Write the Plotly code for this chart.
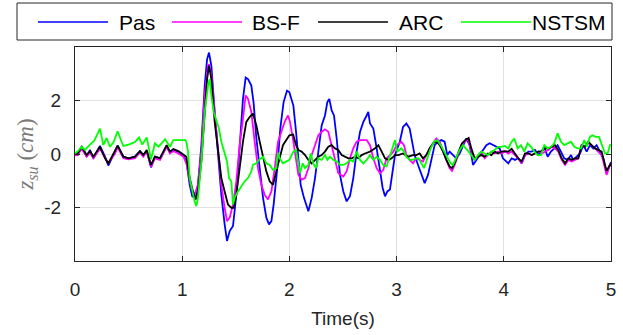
import plotly.graph_objects as go

# ---------------- data ----------------
t_pas = [0, 0.025, 0.062, 0.109, 0.14, 0.171, 0.233, 0.28, 0.311, 0.373, 0.398, 0.451, 0.498, 0.56, 0.606, 0.637, 0.669, 0.709, 0.746, 0.793, 0.815, 0.855, 0.886, 0.917, 0.964, 1.011,
         1.039, 1.07, 1.094, 1.126, 1.147, 1.179, 1.21, 1.232, 1.25, 1.272, 1.303, 1.334, 1.365, 1.396, 1.418, 1.443, 1.474, 1.505, 1.536, 1.567, 1.592, 1.614, 1.645, 1.667, 1.692, 1.723, 1.754, 1.785, 1.81, 1.832, 1.853, 1.884, 1.915, 1.946, 1.978,
         2.0, 2.037, 2.062, 2.084, 2.105, 2.136, 2.177, 2.208, 2.239, 2.27, 2.301, 2.332, 2.354, 2.372, 2.394, 2.416, 2.441, 2.472, 2.503, 2.534, 2.565, 2.596, 2.627, 2.659, 2.69, 2.721, 2.736, 2.752, 2.783, 2.814, 2.845, 2.87, 2.892, 2.914, 2.938, 2.963, 2.985,
         3.007, 3.03, 3.06, 3.091, 3.122, 3.144, 3.168, 3.2, 3.231, 3.262, 3.293, 3.324, 3.355, 3.386, 3.417, 3.448, 3.473, 3.495, 3.526, 3.557, 3.588, 3.619, 3.65, 3.681, 3.713, 3.744, 3.775, 3.806, 3.837, 3.868, 3.899, 3.93, 3.961, 3.992,
         4.024, 4.042, 4.073, 4.104, 4.135, 4.166, 4.198, 4.229, 4.26, 4.291, 4.322, 4.353, 4.378, 4.409, 4.44, 4.471, 4.502, 4.533, 4.564, 4.596, 4.627, 4.648, 4.68, 4.711, 4.742, 4.773, 4.804, 4.835, 4.866, 4.897, 4.928, 4.959, 4.99, 5.0]
v_pas = [0.0, -0.04, 0.27, -0.1, 0.15, -0.16, 0.3, -0.1, -0.43, 0.09, 0.31, -0.1, -0.16, -0.1, 0.11, -0.04, 0.11, -0.5, -0.1, -0.16, 0.02, 0.3, 0.06, 0.15, 0.09, -0.04,
         -0.28, -1.15, -1.58, -1.64, -1.15, 0.33, 2.56, 3.54, 3.79, 3.3, 1.57, -0.04, -1.52, -2.63, -3.25, -2.88, -2.69, -1.52, 0.33, 2.06, 2.86, 2.8, 2.56, 1.88, 0.58, -0.65, -1.64, -2.38, -2.63, -2.51, -1.89, -0.65, 0.95, 1.94, 2.37,
         2.31, 1.81, 0.83, -0.16, -1.15, -1.64, -2.14, -1.64, -0.9, 0.09, 1.07, 1.44, 1.94, 2.06, 1.63, 1.44, 0.58, -0.78, -1.4, -1.77, -1.58, -0.9, 0.09, 0.83, 1.2, 1.44, 1.57, 1.14, 0.95, 0.21, -0.65, -1.27, -1.58, -1.4, -1.33, -0.65, -0.04,
         0.21, 0.46, 1.01, 1.14, 0.95, 0.46, -0.04, -0.41, -0.78, -1.09, -0.78, -0.28, 0.33, 0.46, 0.52, 0.46, -0.04, 0.09, -0.04, -0.16, 0.02, 0.33, 0.58, 0.33, -0.41, -0.22, -0.04, 0.15, 0.33, 0.4, 0.33, 0.27, 0.21, -0.16,
         -0.28, -0.35, -0.16, -0.22, -0.16, -0.35, -0.04, 0.09, 0.09, 0.15, -0.04, 0.09, 0.27, -0.1, 0.09, 0.21, 0.33, 0.09, -0.16, -0.22, -0.04, -0.22, -0.1, 0.02, 0.33, 0.09, 0.33, 0.21, 0.33, 0.09, -0.16, -0.72, -0.35, -0.3]

t_bsf = [0, 0.025, 0.062, 0.109, 0.14, 0.171, 0.233, 0.28, 0.311, 0.373, 0.398, 0.451, 0.498, 0.56, 0.606, 0.637, 0.669, 0.709, 0.746, 0.793, 0.815, 0.855, 0.886, 0.917, 0.964, 1.011,
         1.039, 1.085, 1.116, 1.147, 1.179, 1.21, 1.241, 1.25, 1.272, 1.303, 1.334, 1.365, 1.396, 1.418, 1.443, 1.474, 1.505, 1.536, 1.567, 1.592, 1.614, 1.645, 1.676, 1.707, 1.738, 1.769, 1.8, 1.832, 1.863, 1.894, 1.925, 1.956, 1.987,
         2.006, 2.037, 2.062, 2.084, 2.114, 2.146, 2.177, 2.208, 2.239, 2.27, 2.301, 2.332, 2.363, 2.394, 2.425, 2.456, 2.503, 2.534, 2.565, 2.596, 2.627, 2.659, 2.69, 2.721, 2.752, 2.783, 2.814, 2.845, 2.876, 2.907, 2.938, 2.97,
         3.001, 3.044, 3.069, 3.091, 3.122, 3.153, 3.184, 3.215, 3.246, 3.277, 3.308, 3.34, 3.371, 3.402, 3.433, 3.464, 3.495, 3.517, 3.542, 3.573, 3.604, 3.635, 3.666, 3.697, 3.728, 3.759, 3.79, 3.821, 3.852, 3.884, 3.915, 3.946, 3.977,
         4.011, 4.042, 4.073, 4.104, 4.135, 4.166, 4.198, 4.229, 4.26, 4.291, 4.322, 4.353, 4.384, 4.415, 4.446, 4.477, 4.508, 4.54, 4.571, 4.602, 4.633, 4.664, 4.695, 4.726, 4.757, 4.788, 4.819, 4.851, 4.882, 4.913, 4.944, 4.959, 4.99, 5.0]
v_bsf = [-0.05, -0.04, 0.2, -0.1, 0.06, -0.16, 0.2, -0.16, -0.35, 0.02, 0.25, -0.16, -0.2, -0.16, 0.06, -0.1, 0.09, -0.47, -0.16, -0.22, -0.04, 0.27, 0.02, 0.11, 0.02, -0.1,
         -0.35, -1.27, -1.52, -1.15, 0.09, 2.19, 3.3, 3.36, 2.93, 1.57, 0.21, -1.15, -2.01, -2.51, -2.38, -1.89, -1.02, 0.33, 1.32, 2.19, 2.06, 1.57, 0.46, -0.53, -1.15, -1.52, -1.7, -1.4, -0.53, 0.46, 0.83, 1.2, 1.44,
         1.2, 0.46, -0.28, -0.78, -0.96, -0.9, -0.53, -0.04, 0.33, 0.7, 0.83, 0.92, 0.83, 0.33, -0.28, -0.72, -0.84, -0.65, -0.16, 0.21, 0.46, 0.52, 0.52, 0.52, 0.33, -0.16, -0.53, -0.72, -0.59, -0.16, -0.04, 0.09,
         0.33, 0.46, 0.33, -0.04, -0.22, -0.35, -0.16, -0.22, -0.28, -0.04, 0.21, 0.4, 0.58, 0.46, 0.09, -0.22, -0.53, -0.63, -0.41, -0.04, 0.33, 0.46, 0.56, 0.09, -0.22, -0.1, 0.09, -0.16, -0.04, 0.09, 0.02, 0.09, 0.02,
         0.09, 0.02, 0.09, -0.04, -0.16, -0.35, -0.04, 0.02, -0.04, 0.02, 0.09, 0.02, 0.09, 0.15, 0.27, 0.21, 0.09, -0.22, -0.41, -0.22, -0.28, -0.22, -0.16, 0.33, 0.27, 0.4, 0.33, 0.21, 0.09, -0.04, -0.53, -0.78, -0.41, -0.45]

t_arc = [0, 0.025, 0.062, 0.109, 0.14, 0.171, 0.233, 0.28, 0.311, 0.373, 0.398, 0.451, 0.498, 0.56, 0.606, 0.637, 0.669, 0.709, 0.746, 0.793, 0.815, 0.855, 0.886, 0.917, 0.964, 1.011,
         1.039, 1.07, 1.1, 1.126, 1.147, 1.179, 1.21, 1.232, 1.25, 1.272, 1.303, 1.334, 1.365, 1.396, 1.427, 1.458, 1.48, 1.505, 1.536, 1.567, 1.598, 1.629, 1.66, 1.692, 1.723, 1.754, 1.785, 1.816, 1.847, 1.878, 1.909, 1.94, 1.971,
         2.0, 2.035, 2.062, 2.084, 2.114, 2.146, 2.177, 2.208, 2.239, 2.27, 2.301, 2.332, 2.363, 2.394, 2.425, 2.456, 2.488, 2.519, 2.55, 2.581, 2.612, 2.643, 2.674, 2.705, 2.752, 2.799, 2.83, 2.861, 2.892, 2.923, 2.954, 2.985,
         3.016, 3.06, 3.106, 3.153, 3.184, 3.215, 3.246, 3.277, 3.308, 3.34, 3.371, 3.402, 3.433, 3.464, 3.495, 3.517, 3.548, 3.579, 3.61, 3.641, 3.672, 3.697, 3.728, 3.759, 3.79, 3.821, 3.852, 3.884, 3.915, 3.946, 3.977,
         4.011, 4.042, 4.073, 4.104, 4.135, 4.166, 4.198, 4.229, 4.26, 4.291, 4.322, 4.353, 4.384, 4.415, 4.446, 4.477, 4.508, 4.54, 4.571, 4.602, 4.633, 4.664, 4.695, 4.726, 4.757, 4.788, 4.819, 4.851, 4.882, 4.913, 4.944, 4.959, 4.99, 5.0]
v_arc = [0.0, 0.02, 0.27, -0.04, 0.11, -0.1, 0.27, -0.16, -0.35, 0.09, 0.31, -0.1, -0.16, -0.1, 0.11, -0.04, 0.15, -0.41, -0.1, -0.16, 0.02, 0.33, 0.09, 0.19, 0.11, -0.04,
         -0.1, -0.9, -1.4, -1.7, -1.4, -0.28, 1.57, 2.8, 3.3, 2.8, 1.2, 0.09, -0.9, -1.4, -1.89, -2.01, -2.01, -1.52, -0.53, 0.46, 1.2, 1.38, 1.51, 1.07, 0.46, -0.04, -0.65, -1.02, -1.15, -0.65, -0.16, 0.33, 0.52,
         0.7, 0.73, 0.33, 0.15, 0.09, -0.04, -0.22, -0.35, -0.22, -0.1, -0.04, 0.09, 0.27, 0.33, 0.21, 0.15, -0.04, -0.1, -0.16, -0.16, -0.1, -0.16, -0.04, 0.02, 0.09, 0.21, 0.33, 0.09, -0.16, -0.22, -0.16, -0.04,
         -0.04, 0.02, -0.1, -0.04, -0.04, 0.02, -0.16, -0.04, 0.21, 0.4, 0.48, 0.33, 0.09, -0.22, -0.47, -0.53, -0.28, 0.09, 0.4, 0.52, 0.6, 0.21, -0.16, -0.1, -0.04, -0.1, 0.02, -0.04, 0.09, 0.02, 0.09,
         0.11, 0.09, 0.19, 0.02, -0.16, -0.28, 0.02, 0.02, -0.04, 0.02, 0.09, 0.11, 0.21, 0.21, 0.27, 0.33, 0.15, -0.16, -0.35, -0.16, -0.22, -0.16, -0.16, 0.33, 0.27, 0.46, 0.33, 0.21, 0.15, 0.09, -0.41, -0.63, -0.41, -0.4]

t_nstsm = [0, 0.025, 0.062, 0.093, 0.14, 0.18, 0.233, 0.264, 0.295, 0.326, 0.36, 0.398, 0.435, 0.451, 0.5, 0.56, 0.597, 0.628, 0.669, 0.709, 0.746, 0.78, 0.84, 0.886, 0.917, 0.95, 1.03,
           1.039, 1.054, 1.07, 1.094, 1.116, 1.132, 1.147, 1.179, 1.21, 1.241, 1.256, 1.272, 1.294, 1.318, 1.343, 1.365, 1.396, 1.418, 1.437, 1.458, 1.474, 1.489, 1.52, 1.552, 1.583, 1.614, 1.645, 1.66, 1.692, 1.716, 1.754, 1.785, 1.816, 1.847, 1.878, 1.894, 1.909, 1.94, 1.971,
           2.0, 2.037, 2.062, 2.099, 2.124, 2.146, 2.177, 2.198, 2.223, 2.248, 2.27, 2.301, 2.332, 2.354, 2.379, 2.41, 2.441, 2.472, 2.503, 2.534, 2.565, 2.596, 2.627, 2.659, 2.69, 2.721, 2.752, 2.783, 2.814, 2.845, 2.876, 2.907, 2.938, 2.963, 2.985,
           3.007, 3.044, 3.069, 3.091, 3.122, 3.153, 3.184, 3.206, 3.231, 3.256, 3.287, 3.318, 3.349, 3.38, 3.411, 3.442, 3.473, 3.504, 3.526, 3.557, 3.588, 3.619, 3.65, 3.672, 3.697, 3.728, 3.759, 3.79, 3.821, 3.852, 3.884, 3.915, 3.946, 3.977,
           4.011, 4.042, 4.073, 4.098, 4.129, 4.16, 4.191, 4.222, 4.254, 4.285, 4.316, 4.347, 4.378, 4.409, 4.44, 4.471, 4.502, 4.533, 4.564, 4.596, 4.627, 4.658, 4.689, 4.72, 4.751, 4.773, 4.804, 4.826, 4.857, 4.888, 4.913, 4.944, 4.969, 4.99, 5.0]
v_nstsm = [0.02, 0.1, 0.27, 0.15, 0.35, 0.5, 0.95, 0.33, 0.6, 0.27, 0.45, 0.85, 0.45, 0.3, 0.35, 0.45, 0.62, 0.35, 0.62, -0.2, 0.4, 0.27, 0.55, 0.27, 0.52, 0.52, 0.52,
           0.46, 0.09, -0.9, -1.4, -1.77, -1.95, -1.64, -0.28, 1.57, 2.56, 2.8, 2.19, 1.57, 1.26, 0.95, 0.46, -0.04, -0.28, -0.9, -1.02, -1.89, -1.64, -1.4, -1.21, -1.02, -0.9, -0.65, -0.41, -0.35, -0.22, -0.1, -0.35, -0.41, -0.59, -0.53, 0.05, -0.16, -0.35, -0.28,
           -0.22, 0.09, 0.15, -0.72, -0.35, -0.53, -0.41, 0.02, -0.35, -0.53, -0.16, -0.22, -0.04, -0.22, -0.1, -0.22, -0.28, -0.41, -0.41, -0.35, -0.22, -0.28, 0.09, -0.22, -0.35, -0.22, -0.04, -0.22, -0.1, -0.22, -0.41, -0.47, -0.1, 0.21, 0.52,
           0.09, 0.21, 0.09, -0.1, -0.22, -0.22, -0.16, -0.16, -0.35, -0.53, -0.16, 0.21, 0.46, 0.52, 0.33, 0.09, -0.16, -0.35, -0.41, -0.1, 0.15, 0.33, 0.21, 0.09, -0.04, -0.22, -0.04, 0.09, 0.02, -0.04, 0.09, 0.15, 0.27, 0.27,
           0.3, 0.21, 0.46, 0.58, 0.21, 0.33, 0.09, 0.4, 0.27, 0.09, -0.04, -0.04, 0.33, 0.21, 0.27, 0.4, 0.77, 0.46, 0.33, 0.4, 0.46, 0.27, 0.21, 0.21, 0.52, 0.27, 0.64, 0.7, 0.64, 0.64, 0.33, 0.02, 0.02, 0.33, 0.35]

series_names = ["Pas", "BS-F", "ARC", "NSTSM"]
series_colors = ["#0000ff", "#ff00ff", "#000000", "#00ff00"]
x_ticks = [0, 1, 2, 3, 4, 5]
y_ticks = [-2, 0, 2]
y_tick_text = ["-2", "0", "2"]

# ---------------- figure ----------------
W, H = 623, 335
L, R, T, B = 75, 12, 47, 74
pw, ph = W - L - R, H - T - B


def px(x):
    return (x - L) / pw


def py(y):
    return (H - B - y) / ph


fig = go.Figure()
for name, t, v, c in zip(series_names, [t_pas, t_bsf, t_arc, t_nstsm],
                         [v_pas, v_bsf, v_arc, v_nstsm], series_colors):
    fig.add_trace(go.Scatter(x=t, y=v, mode="lines", name=name,
                             line=dict(color=c, width=1.8), showlegend=False))

axis_col = "#262626"
font_sans = "Liberation Sans, Arial, sans-serif"

# manual MATLAB-style legend
shapes = [dict(type="rect", xref="paper", yref="paper",
               x0=px(17), x1=px(612), y0=py(40), y1=py(3),
               line=dict(color=axis_col, width=1), fillcolor="white", layer="above")]
annotations = []
legend_line_x = [(38, 108, 117), (172, 242, 250), (318, 388, 397), (461, 531, 530)]
for (x0, x1, xt), name, c in zip(legend_line_x, series_names, series_colors):
    shapes.append(dict(type="line", xref="paper", yref="paper",
                       x0=px(x0), x1=px(x1), y0=py(22), y1=py(22),
                       line=dict(color=c, width=1.6), layer="above"))
    annotations.append(dict(text=name, xref="paper", yref="paper", x=px(xt), y=py(22.5),
                            xanchor="left", yanchor="middle", showarrow=False,
                            font=dict(family=font_sans, size=21, color="#000000")))

fig.update_layout(
    width=W, height=H,
    margin=dict(l=L, r=R, t=T, b=B, autoexpand=False),
    paper_bgcolor="white", plot_bgcolor="white",
    shapes=shapes, annotations=annotations,
    xaxis=dict(range=[0, 5], tickvals=x_ticks, ticks="inside", ticklen=5, tickcolor=axis_col,
               showline=True, linecolor=axis_col, linewidth=1, mirror="ticks",
               showgrid=True, gridcolor="#e2e2e2", gridwidth=1, zeroline=False,
               automargin=False,
               tickfont=dict(family=font_sans, size=19, color=axis_col),
               ticklabelstandoff=11,
               title=dict(text="Time(s)", standoff=12,
                          font=dict(family=font_sans, size=19, color=axis_col))),
    yaxis=dict(range=[-4, 4], tickvals=y_ticks, ticktext=y_tick_text, ticks="inside", ticklen=5,
               tickcolor=axis_col, showline=True, linecolor=axis_col, linewidth=1, mirror="ticks",
               showgrid=True, gridcolor="#e2e2e2", gridwidth=1, zeroline=False,
               automargin=False,
               tickfont=dict(family=font_sans, size=19, color=axis_col),
               ticklabelstandoff=9,
               title=dict(text="<i>z</i><sub><i>su</i></sub> (<i>cm</i>)", standoff=4,
                          font=dict(family="Liberation Serif, DejaVu Serif, serif", size=23,
                                    color="#7a7a7a"))),
)

fig.write_html("out.html", config={"displayModeBar": False},
               post_script="document.body.style.margin='0';")
